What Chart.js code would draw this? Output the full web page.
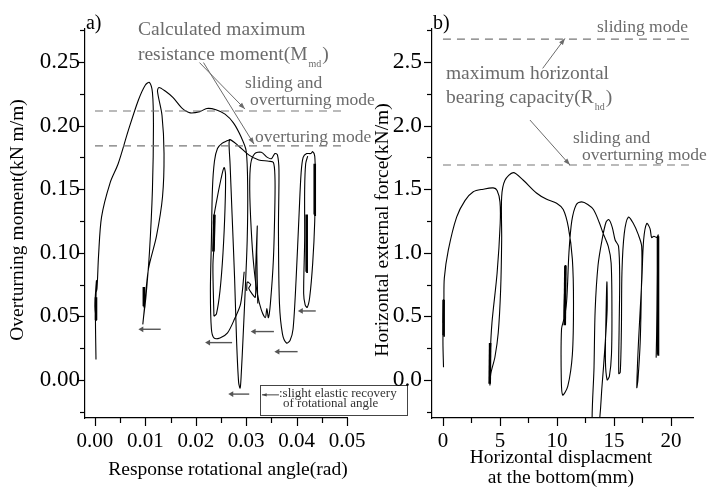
<!DOCTYPE html>
<html>
<head>
<meta charset="utf-8">
<script src="https://cdn.jsdelivr.net/npm/chart.js@4.4.0/dist/chart.umd.min.js"></script>
<style>
  body { margin: 0; background: #fff; }
  .wrap { position: relative; width: 707px; height: 490px; }
  canvas { position: absolute; left: 0; top: 0; }
</style>
</head>
<body>
<div class="wrap">
  <canvas id="moment" width="707" height="490"></canvas>
  <canvas id="force" width="707" height="490"></canvas>
</div>
<script>
// ---- a) overturning moment vs rotational angle ----
const angleTicks = [0, 0.01, 0.02, 0.03, 0.04, 0.05];
const momentTicks = [0, 0.05, 0.1, 0.15, 0.2, 0.25];
const momentLimits = [0.2115, 0.184];

const angleCycle = [
  [0.0002, 0.016], [0.0001, 0.05], [0.0003, 0.078], [0.0, 0.058], [0.0003, 0.047],
  [0.0001, 0.066], [0.0004, 0.072], [0.0007, 0.097], [0.0013, 0.128], [0.003, 0.155],
  [0.0046, 0.17], [0.0066, 0.196], [0.0086, 0.22], [0.01, 0.232], [0.0108, 0.234],
  [0.0114, 0.226], [0.0116, 0.2], [0.0114, 0.15], [0.0108, 0.1], [0.0101, 0.065],
  [0.0096, 0.048], [0.0095, 0.044], [0.0098, 0.056], [0.0106, 0.087], [0.0122, 0.113],
  [0.0134, 0.144], [0.0137, 0.178], [0.0133, 0.208], [0.0124, 0.227], [0.0127, 0.23],
  [0.014, 0.227], [0.0155, 0.222], [0.0172, 0.214], [0.0189, 0.21], [0.0208, 0.211],
  [0.0222, 0.2135], [0.024, 0.2125], [0.0258, 0.209], [0.0275, 0.202], [0.029, 0.191],
  [0.03, 0.18], [0.0303, 0.15], [0.0302, 0.11], [0.0298, 0.07], [0.0294, 0.035],
  [0.029, 0.003], [0.0288, -0.0065], [0.0285, -0.002], [0.0281, 0.03], [0.0277, 0.08],
  [0.0272, 0.13], [0.0268, 0.17], [0.0266, 0.186], [0.0268, 0.189], [0.0285, 0.184],
  [0.0305, 0.177], [0.0325, 0.173], [0.0345, 0.172], [0.0354, 0.171], [0.0357, 0.16],
  [0.0357, 0.14], [0.0354, 0.095], [0.0348, 0.06], [0.0344, 0.049], [0.0341, 0.056],
  [0.0338, 0.049], [0.033, 0.055], [0.0322, 0.068], [0.0315, 0.09], [0.031, 0.118],
  [0.0307, 0.15], [0.0309, 0.17], [0.0317, 0.178], [0.033, 0.179], [0.0342, 0.175],
  [0.035, 0.174], [0.0357, 0.178], [0.0362, 0.177], [0.0365, 0.165], [0.0364, 0.118],
  [0.0366, 0.06], [0.0372, 0.036], [0.038, 0.029], [0.0387, 0.031], [0.0393, 0.04],
  [0.0399, 0.079], [0.0405, 0.131], [0.0409, 0.163], [0.0413, 0.175], [0.042, 0.178],
  [0.0428, 0.178], [0.0432, 0.1795], [0.0436, 0.176], [0.0437, 0.16], [0.0436, 0.125],
  [0.0432, 0.092], [0.0426, 0.065], [0.0421, 0.057], [0.0417, 0.059], [0.0414, 0.068],
  [0.0416, 0.11], [0.0416, 0.15], [0.0418, 0.17], [0.0422, 0.176],
];
const angleLoopB = [
  [0.0296, 0.085], [0.0289, 0.06], [0.0277, 0.048], [0.0263, 0.037], [0.0248, 0.033],
  [0.0236, 0.033], [0.0231, 0.04], [0.0229, 0.07], [0.0231, 0.11], [0.0233, 0.15],
  [0.0237, 0.172], [0.0243, 0.182], [0.0252, 0.186], [0.0262, 0.188], [0.0268, 0.189],
];
const angleInnerB = [
  [0.0236, 0.05], [0.0234, 0.09], [0.0237, 0.112], [0.0235, 0.125], [0.0241, 0.14],
  [0.025, 0.158], [0.0256, 0.167], [0.0259, 0.162], [0.0258, 0.135], [0.0254, 0.1],
  [0.0248, 0.07], [0.0241, 0.052], [0.0236, 0.05],
];
const angleInnerC = [
  [0.0301, 0.07], [0.0302, 0.077], [0.0309, 0.075], [0.0305, 0.072], [0.0318, 0.065],
  [0.0319, 0.09], [0.0322, 0.121], [0.0321, 0.1], [0.0323, 0.06],
];
const angleDense = [
  [[0.0002, 0.047], [0.0002, 0.065]],
  [[0.0096, 0.058], [0.0097, 0.073]],
  [[0.0235, 0.101], [0.0237, 0.13]],
  [[0.0419, 0.085], [0.042, 0.13]],
  [[0.0435, 0.13], [0.0436, 0.17]],
];
// elastic recovery arrows: [head, tail, moment]
const recoveryArrows = [
  [0.00926, 0.01304, 0.0398],
  [0.0225, 0.0272, 0.0293],
  [0.0271, 0.0306, -0.0112],
  [0.03155, 0.0355, 0.038],
  [0.03625, 0.0402, 0.0222],
  [0.0409, 0.0438, 0.0542],
];

// ---- b) horizontal force vs displacement ----
const dispTicks = [0, 5, 10, 15, 20];
const forceTicks = [0, 0.5, 1, 1.5, 2, 2.5];
const forceLimits = [2.68, 1.69];

const forcePath = [
  [0.05, 0.1], [0.0, 0.3], [0.05, 0.63], [0.0, 0.45], [0.08, 0.6], [0.12, 0.8],
  [0.47, 1.02], [1.2, 1.28], [1.93, 1.41], [2.66, 1.48], [3.53, 1.5], [4.41, 1.51],
  [4.75, 1.49], [5.0, 1.4], [5.02, 1.23], [4.75, 0.84], [4.3, 0.45], [4.15, 0.2],
  [4.12, -0.04], [4.2, 0.05], [4.56, 0.18], [4.85, 0.37], [5.06, 0.71], [5.15, 1.1],
  [5.15, 1.44], [5.44, 1.57], [6.17, 1.63], [7.05, 1.57], [8.2, 1.47], [9.1, 1.42],
  [9.97, 1.39], [10.55, 1.34], [11.0, 1.2], [11.35, 0.95], [11.45, 0.6], [11.35, 0.2],
  [10.95, -0.05], [10.5, -0.12], [10.38, 0.0], [10.4, 0.4], [10.65, 0.5], [10.75, 0.9],
  [10.62, 0.48], [10.85, 0.62], [11.05, 1.0], [11.3, 1.25], [11.7, 1.38], [12.17, 1.4],
  [12.7, 1.38], [13.2, 1.34], [13.7, 1.24], [14.06, 1.15], [14.5, 1.05], [14.75, 0.92],
  [14.82, 0.55], [14.78, 0.2], [14.6, 0.03], [14.4, 0.0], [14.25, 0.15], [14.3, 0.5],
  [14.38, 0.77], [14.4, 0.55], [14.2, 0.25], [13.95, -0.05], [13.6, -0.4], [13.1, -0.4],
  [13.25, 0.1], [13.35, 0.55], [13.6, 0.9], [13.95, 1.1], [14.3, 1.24], [14.55, 1.26],
  [14.85, 1.2], [15.1, 1.1], [15.4, 1.05], [15.5, 0.8], [15.45, 0.4], [15.42, 0.05],
  [15.55, 0.06], [15.65, 0.4], [15.7, 0.85], [15.9, 1.15], [16.26, 1.28], [16.7, 1.23],
  [17.1, 1.15], [17.43, 1.05], [17.4, 0.7], [17.3, 0.3], [17.1, 0.0], [17.0, -0.06],
  [17.15, 0.3], [17.45, 0.8], [17.6, 1.1], [17.87, 1.23], [18.16, 1.19], [18.3, 1.12],
  [18.5, 1.13], [18.75, 1.12], [18.88, 1.14], [18.85, 0.8], [18.7, 0.18], [18.78, 0.55],
  [18.85, 1.1],
];
const forceDense = [
  [[0.03, 0.35], [0.06, 0.63]],
  [[4.1, -0.03], [4.14, 0.29]],
  [[10.68, 0.43], [10.74, 0.9]],
  [[18.8, 0.2], [18.86, 1.13]],
];

// ---- annotations (value coordinates) ----
const momentNotes = [
  { text: "a)", x: -0.0018, y: 0.2799, color: "#000", size: 20 },
  { text: "Calculated maximum", x: 0.00853, y: 0.2752 },
  { text: "resistance moment(M", sub: "md", after: ")", x: 0.00853, y: 0.2555 },
  { text: "sliding and", x: 0.02976, y: 0.2335, size: 17.5 },
  { text: "overturning mode", x: 0.03075, y: 0.2201, size: 17.5 },
  { text: "overturing mode", x: 0.03175, y: 0.191, size: 17.5 },
  { text: "Response rotational angle(rad)", x: 0.02639, y: -0.0708, color: "#000", align: "center" },
  { text: "Overturning moment(kN m/m)", x: -0.01528, y: 0.1258, color: "#000", align: "center", rotate: -Math.PI / 2 },
  { text: ":slight elastic recovery", x: 0.0365, y: -0.011, color: "#333", size: 13 },
  { text: "of rotational angle", x: 0.0373, y: -0.0189, color: "#333", size: 13 },
];
const momentPointers = [
  { from: [0.02073, 0.2496], to: [0.02976, 0.213] },
  { from: [0.02153, 0.2496], to: [0.03155, 0.1855] },
  { from: [0.0365, -0.0118], to: [0.03313, -0.0118], color: "#444", head: 5 },
];
const legendBox = { x0: 0.03274, y0: -0.00393, x1: 0.0619, y1: -0.02752 };

const forceNotes = [
  { text: "b)", x: -0.877, y: 2.799, color: "#000", size: 20 },
  { text: "sliding mode", x: 13.51, y: 2.775, size: 17.5 },
  { text: "maximum horizontal", x: 0.263, y: 2.406 },
  { text: "bearing capacity(R", sub: "hd", after: ")", x: 0.263, y: 2.217 },
  { text: "sliding and", x: 11.4, y: 1.902, size: 17.5 },
  { text: "overturning mode", x: 12.19, y: 1.769, size: 17.5 },
  { text: "Horizontal displacment", x: 10.35, y: -0.613, color: "#000", align: "center" },
  { text: "at the bottom(mm)", x: 10.35, y: -0.77, color: "#000", align: "center" },
  { text: "Horizontal external force(kN/m)", x: -5.26, y: 1.179, color: "#000", align: "center", rotate: -Math.PI / 2 },
];
const forcePointers = [
  { from: [8.746, 2.45], to: [10.7, 2.686] },
  { from: [7.63, 2.044], to: [11.14, 1.69] },
];

const serif = "'Liberation Serif', 'Times New Roman', serif";
const noteGray = "#6b6b6b";

const toPoints = (pairs) => pairs.map(([x, y]) => ({ x, y }));

const curve = (pairs, width = 1.1, tension = 0.3) => ({
  data: toPoints(pairs),
  showLine: true,
  borderColor: "#000",
  borderWidth: width,
  pointRadius: 0,
  tension,
});

const dashed = (value, xEnd) => ({
  data: [{ x: 0, y: value }, { x: xEnd, y: value }],
  showLine: true,
  borderColor: "#777",
  borderWidth: 1.2,
  borderDash: [8, 6],
  pointRadius: 0,
});

const arrow = ([head, tail, y]) => ({
  data: [{ x: head, y }, { x: tail, y }],
  showLine: true,
  borderColor: "#555",
  borderWidth: 1.4,
  pointRadius: [3.3, 0],
  pointStyle: "triangle",
  pointRotation: -90,
  pointBackgroundColor: "#555",
  pointBorderWidth: 0,
});

// major ticks from the label list, minor ticks half way between
const buildTicks = (majors, step, extraMinors) => {
  const ticks = majors.map((v) => ({ value: v, isMajor: true }));
  for (let i = 0; i < majors.length - 1; i++) {
    ticks.push({ value: majors[i] + step / 2, isMajor: false });
  }
  extraMinors.forEach((v) => ticks.push({ value: v, isMajor: false }));
  return ticks.sort((a, b) => a.value - b.value);
};

const tickMarks = {
  id: "tickMarks",
  afterDraw(chart) {
    const { ctx, scales } = chart;
    ctx.save();
    ctx.strokeStyle = "#000";
    ctx.lineWidth = 1.2;
    Object.values(scales).forEach((scale) => {
      scale.ticks.forEach((tick) => {
        const len = tick.isMajor ? 8 : 5;
        const p = Math.round(scale.getPixelForValue(tick.value)) + 0.5;
        ctx.beginPath();
        if (scale.isHorizontal()) {
          ctx.moveTo(p, scale.top);
          ctx.lineTo(p, scale.top + len);
        } else {
          ctx.moveTo(scale.right, p);
          ctx.lineTo(scale.right - len, p);
        }
        ctx.stroke();
      });
    });
    ctx.restore();
  },
};

const drawText = (ctx, item, px, py) => {
  const size = item.size || 19.5;
  ctx.save();
  ctx.translate(px(item.x), py(item.y));
  if (item.rotate) ctx.rotate(item.rotate);
  ctx.font = `${size}px ${serif}`;
  ctx.fillStyle = item.color || noteGray;
  ctx.textAlign = item.align || "left";
  ctx.textBaseline = "middle";
  ctx.fillText(item.text, 0, 0);
  if (item.sub) {
    const w = ctx.measureText(item.text).width;
    ctx.font = `10px ${serif}`;
    ctx.fillText(item.sub, w + 1, 9);
    const sw = ctx.measureText(item.sub).width;
    ctx.font = `${size}px ${serif}`;
    ctx.fillText(item.after, w + sw + 2, 0);
  }
  ctx.restore();
};

const makeNotes = (texts, pointers, box) => ({
  id: "notes",
  afterDraw(chart) {
    const { ctx, scales: { x, y } } = chart;
    const px = (v) => x.getPixelForValue(v);
    const py = (v) => y.getPixelForValue(v);
    ctx.save();
    pointers.forEach(({ from, to, color, head }) => {
      const x1 = px(from[0]), y1 = py(from[1]);
      const x2 = px(to[0]), y2 = py(to[1]);
      const a = Math.atan2(y2 - y1, x2 - x1);
      const h = head || 7;
      ctx.strokeStyle = color || noteGray;
      ctx.fillStyle = color || noteGray;
      ctx.lineWidth = 1;
      ctx.beginPath();
      ctx.moveTo(x1, y1);
      ctx.lineTo(x2, y2);
      ctx.stroke();
      ctx.beginPath();
      ctx.moveTo(x2, y2);
      ctx.lineTo(x2 - h * Math.cos(a - 0.35), y2 - h * Math.sin(a - 0.35));
      ctx.lineTo(x2 - h * Math.cos(a + 0.35), y2 - h * Math.sin(a + 0.35));
      ctx.closePath();
      ctx.fill();
    });
    if (box) {
      const l = Math.round(px(box.x0)) + 0.5, t = Math.round(py(box.y0)) + 0.5;
      const r = Math.round(px(box.x1)) + 0.5, b = Math.round(py(box.y1)) + 0.5;
      ctx.strokeStyle = "#444";
      ctx.lineWidth = 1;
      ctx.strokeRect(l, t, r - l, b - t);
    }
    texts.forEach((item) => drawText(ctx, item, px, py));
    ctx.restore();
  },
});

const axis = (opts) => ({
  type: "linear",
  min: opts.min,
  max: opts.max,
  afterFit: opts.fit,
  afterBuildTicks: (scale) => {
    scale.ticks = buildTicks(opts.majors, opts.step, opts.extra);
  },
  grid: { display: false, drawTicks: false },
  border: { display: true, color: "#000", width: 1.2 },
  ticks: {
    autoSkip: false,
    maxRotation: 0,
    padding: opts.pad,
    color: "#000",
    font: { family: serif, size: opts.size },
    callback: (value, index, ticks) =>
      ticks[index].isMajor ? value.toFixed(opts.digits) : "",
  },
});

const renderChart = (id, datasets, padding, scales, plugin) => {
  new Chart(document.getElementById(id), {
    type: "scatter",
    data: { datasets },
    options: {
      responsive: false,
      animation: false,
      devicePixelRatio: 1,
      events: [],
      layout: { padding },
      plugins: { legend: { display: false }, tooltip: { enabled: false } },
      scales,
    },
    plugins: [tickMarks, plugin],
  });
};

renderChart(
  "moment",
  [
    ...momentLimits.map((v) => dashed(v, 0.05)),
    curve(angleCycle),
    curve(angleLoopB),
    curve(angleInnerB),
    curve(angleInnerC, 1.1, 0.2),
    ...angleDense.map((seg) => curve(seg, 2.6, 0)),
    ...recoveryArrows.map(arrow),
  ],
  { left: 0, right: 360, top: 29, bottom: 0 },
  {
    x: axis({
      min: -0.00198, max: 0.05, majors: angleTicks, step: 0.01, extra: [],
      digits: 2, size: 21, pad: 11, fit: (s) => { s.height = 72; },
    }),
    y: axis({
      min: -0.03, max: 0.276, majors: momentTicks, step: 0.05, extra: [-0.025, 0.275],
      digits: 2, size: 23, pad: 5, fit: (s) => { s.width = 85; },
    }),
  },
  makeNotes(momentNotes, momentPointers, legendBox)
);

renderChart(
  "force",
  [
    ...forceLimits.map((v) => dashed(v, 21.93)),
    curve(forcePath),
    ...forceDense.map((seg) => curve(seg, 2.6, 0)),
  ],
  { left: 372, right: 14, top: 29, bottom: 0 },
  {
    x: axis({
      min: -0.96, max: 21.93, majors: dispTicks, step: 5, extra: [],
      digits: 0, size: 21, pad: 11, fit: (s) => { s.height = 72; },
    }),
    y: axis({
      min: -0.3, max: 2.76, majors: forceTicks, step: 0.5, extra: [-0.25, 2.75],
      digits: 1, size: 23.5, pad: 10, fit: (s) => { s.width = 60; },
    }),
  },
  makeNotes(forceNotes, forcePointers, null)
);
</script>
</body>
</html>
